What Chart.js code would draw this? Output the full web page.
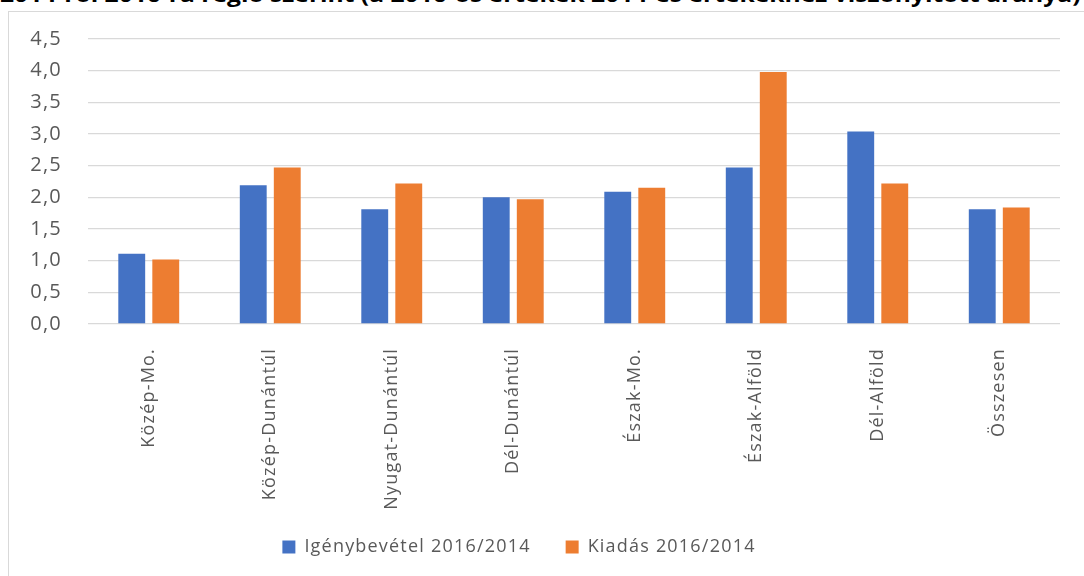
<!DOCTYPE html>
<html>
<head>
<meta charset="utf-8">
<script src="https://cdn.jsdelivr.net/npm/chart.js@4"></script>
<style>
  body { margin: 0; background: #fff; overflow: hidden; }
  #wrap { position: relative; width: 1084px; height: 576px; overflow: hidden; }
  #frame { position: absolute; left: 8px; top: 11px; width: 1100px; height: 600px; border: 1.5px solid #d9d9d9; }
  #title { position: absolute; left: 0; top: -16px; white-space: nowrap; font: bold 21px "Open Sans", sans-serif; line-height: 21px; color: #000; transform-origin: 0 0; }
  canvas { position: absolute; left: 0; top: 0; }
</style>
</head>
<body>
<div id="wrap">
  <div id="frame"></div>
  <div id="title">2014-ről 2016-ra régió szerint (a 2016-os értékek 2014-es értékekhez viszonyított aránya)</div>
  <canvas id="myChart" width="1084" height="576"></canvas>
</div>
<script>
// régiók
var regiok = ['Közép-Mo.', 'Közép-Dunántúl', 'Nyugat-Dunántúl', 'Dél-Dunántúl',
              'Észak-Mo.', 'Észak-Alföld', 'Dél-Alföld', 'Összesen'];
var igenybevetel = [1.11, 2.19, 1.81, 2.00, 2.09, 2.47, 3.04, 1.81];
var kiadas = [1.02, 2.47, 2.22, 1.97, 2.15, 3.98, 2.22, 1.84];
var sorozatNevek = ['Igénybevétel 2016/2014', 'Kiadás 2016/2014'];

// cím szélességét a képhez igazítjuk
var t = document.getElementById('title');
t.style.transform = 'scaleX(' + (1080 / t.offsetWidth) + ')';

// kicsit ritkított betűk, mint az eredetin; a jelmagyarázat kicsit balra
var ritkitas = {
    id: 'ritkitas',
    beforeLayout: function(chart) { chart.ctx.letterSpacing = '1.2px'; },
    afterLayout: function(chart) {
        chart.legend.left -= 11;
        chart.legend.right -= 11;
    },
    beforeDraw: function(chart) { chart.ctx.letterSpacing = '1.2px'; }
};

var ctx = document.getElementById('myChart').getContext('2d');
var myChart = new Chart(ctx, {
    type: 'bar',
    data: {
        labels: regiok,
        datasets: [{
            label: sorozatNevek[0],
            data: igenybevetel,
            backgroundColor: '#4472C4'
        }, {
            label: sorozatNevek[1],
            data: kiadas,
            backgroundColor: '#ED7D31'
        }]
    },
    plugins: [ritkitas],
    options: {
        responsive: false,
        animation: false,
        devicePixelRatio: 1,
        layout: { padding: { left: 0, right: 24, top: 39, bottom: 10 } },
        datasets: { bar: { categoryPercentage: 0.56, barPercentage: 0.79 } },
        plugins: {
            tooltip: { enabled: false },
            legend: {
                position: 'bottom',
                labels: {
                    boxWidth: 13, boxHeight: 13, padding: 35,
                    color: '#595959',
                    font: { family: 'Open Sans', size: 18 }
                }
            }
        },
        scales: {
            x: {
                grid: { display: false },
                border: { display: false },
                ticks: {
                    minRotation: 90, maxRotation: 90, padding: 16,
                    color: '#595959',
                    font: { family: 'Open Sans', size: 18 }
                },
                afterFit: function(axis) {
                    axis.height = 179;
                    // ne vágja le a hosszú feliratokat
                    axis._computeLabelArea = function() { return undefined; };
                }
            },
            y: {
                min: 0, max: 4.5,
                grid: { color: '#d9d9d9', lineWidth: 1.3, drawTicks: false },
                border: { display: false },
                ticks: {
                    stepSize: 0.5, padding: 26,
                    color: '#595959',
                    font: { family: 'Open Sans', size: 20 },
                    callback: function(value) {
                        return value.toFixed(1).replace('.', ',');
                    }
                },
                afterFit: function(axis) { axis.width = 88; }
            }
        }
    }
});
</script>
</body>
</html>
